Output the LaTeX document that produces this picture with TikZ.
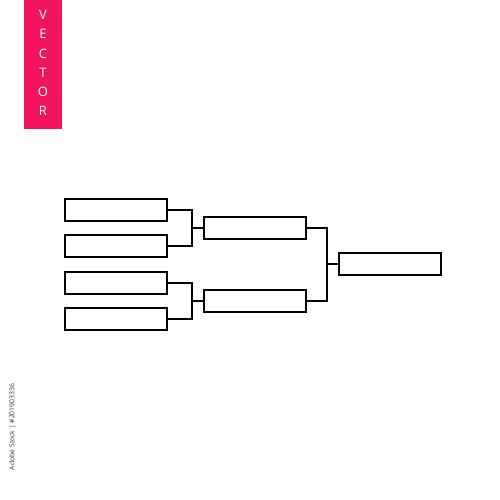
\documentclass[tikz,border=0pt]{standalone}
\usepackage{fontspec}
\setmainfont{Open Sans}
\begin{document}
\begin{tikzpicture}[x=1pt,y=1pt,
  slot/.style={draw=black,line width=2pt,fill=white,minimum width=102pt,minimum height=22pt,inner sep=0pt},
  link/.style={draw=black,line width=2pt},
  tagletter/.style={text=white,font=\fontsize{13}{13}\selectfont,inner sep=0pt}]
\useasboundingbox (0,0) rectangle (500,500);
\definecolor{tagpink}{HTML}{F2145E}
% tag
\fill[tagpink] (24,500) rectangle (62,371);
\foreach \l [count=\i] in {V,E,C,T,O,R}
  \node[tagletter] (t\i) at (43,{500-15-19.2*(\i-1)}) {\l};
% stock id
\node[rotate=90,font=\fontsize{6.8}{6.8}\selectfont,text=black!80,inner sep=0pt] (sid) at (12.5,{500-427}) {Adobe Stock | \#201903336};
% round 1
\node[slot] (a1) at (116.2,{500-209.7}) {};
\node[slot] (a2) at (116.2,{500-246}) {};
\node[slot] (a3) at (116.2,{500-283}) {};
\node[slot] (a4) at (116.2,{500-319.5}) {};
% round 2
\node[slot] (s1) at (254.7,{500-227.7}) {};
\node[slot] (s2) at (254.7,{500-300.7}) {};
% final
\node[slot] (f) at (390,{500-264}) {};
% joints
\coordinate (j1) at (191.7,{500-227.7});
\coordinate (j2) at (191.7,{500-300.7});
\coordinate (j3) at (326.7,{500-264});
\draw[link] (a1.east) -| (j1) |- (a2.east);
\draw[link] (j1) -- (s1.west);
\draw[link] (a3.east) -| (j2) |- (a4.east);
\draw[link] (j2) -- (s2.west);
\draw[link] (s1.east) -| (j3) |- (s2.east);
\draw[link] (j3) -- (f.west);
\end{tikzpicture}
\end{document}
